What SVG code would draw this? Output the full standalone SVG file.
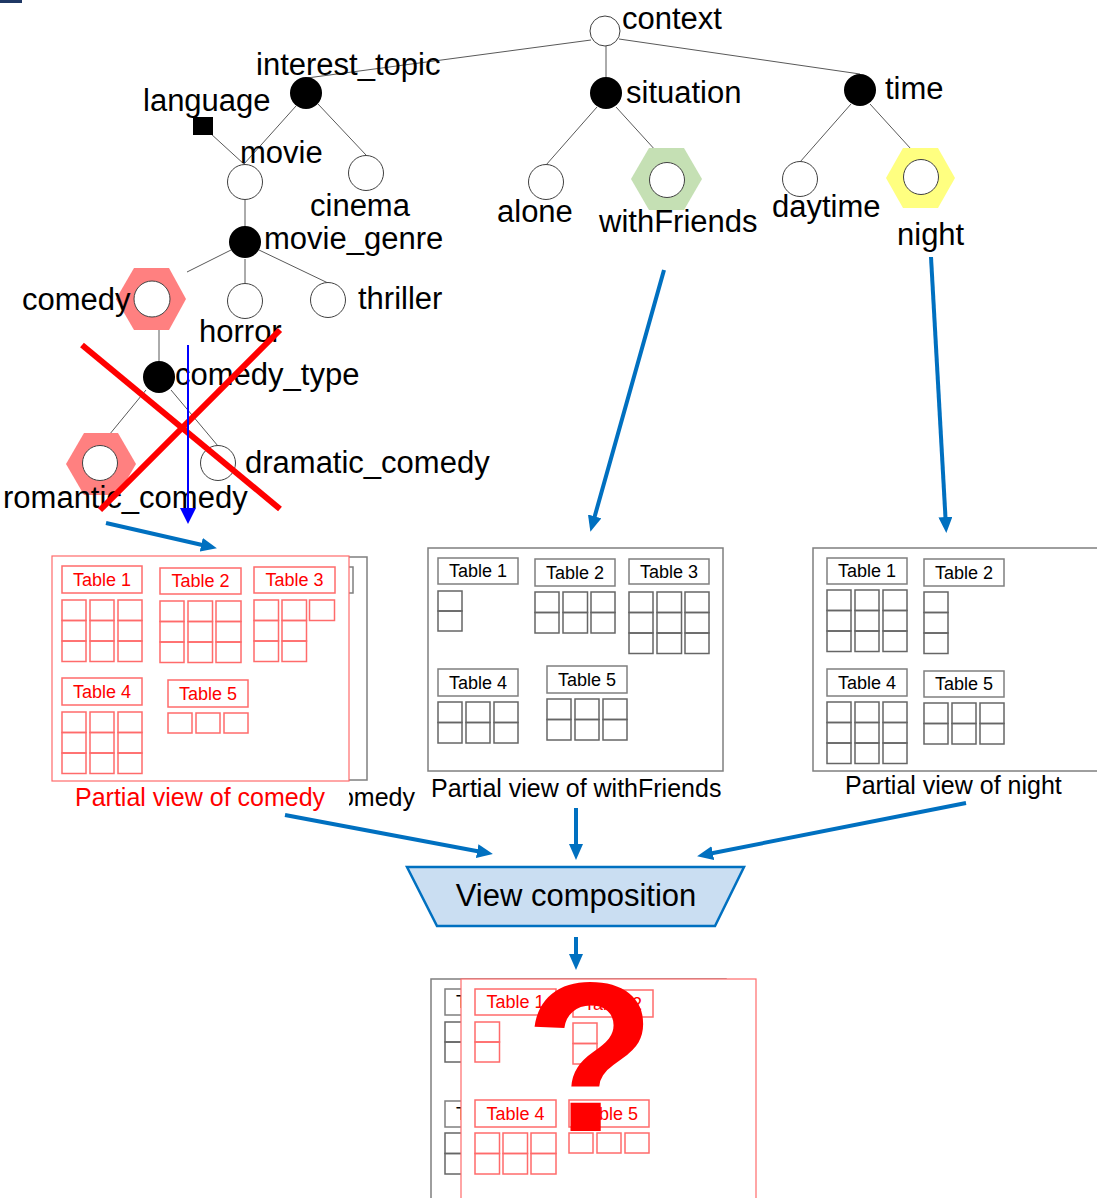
<svg xmlns="http://www.w3.org/2000/svg" width="1097" height="1198" viewBox="0 0 1097 1198">
<style>
text{font-family:"Liberation Sans",Arial,sans-serif;}
.lbl{font-size:31px;fill:#000;}
.tl{font-size:18px;fill:#000;}
.tlr{font-size:18px;fill:#ff0000;}
.cap{font-size:25px;fill:#000;}
.edge{stroke:#595959;stroke-width:1;fill:none;}
.hol{fill:#fff;stroke:#404040;stroke-width:1;}
.blk{fill:#000;}
.pan{fill:#fff;stroke:#7f7f7f;stroke-width:1.5;}
.box{fill:#fff;stroke:#7f7f7f;stroke-width:1.5;}
.cell{fill:none;stroke:#666;stroke-width:1.5;}
.rbox{fill:none;stroke:#ff6b6b;stroke-width:1.5;}
.rpan{fill:none;stroke:#ff6b6b;stroke-width:1.2;}
.arr{stroke:#0070c0;stroke-width:4;fill:none;marker-end:url(#ah);}
</style>
<defs>
<marker id="ah" markerUnits="userSpaceOnUse" markerWidth="16" markerHeight="14" refX="10" refY="7" orient="auto"><path d="M0,0 L16,7 L0,14 z" fill="#0070c0"/></marker>
<marker id="ahb" markerUnits="userSpaceOnUse" markerWidth="16" markerHeight="16" refX="2" refY="8" orient="auto"><path d="M0,0 L16,8 L0,16 z" fill="#0000ff"/></marker>
</defs>
<rect x="0" y="0" width="22" height="3" fill="#1f3864"/>

<g id="tree-edges">
<line class="edge" x1="591" y1="40" x2="307" y2="78"/>
<line class="edge" x1="606" y1="46" x2="606" y2="77"/>
<line class="edge" x1="619" y1="39" x2="860" y2="74"/>
<line class="edge" x1="296" y1="106" x2="244" y2="164"/>
<line class="edge" x1="318" y1="104" x2="366" y2="155"/>
<line class="edge" x1="210" y1="133" x2="245" y2="165"/>
<line class="edge" x1="245" y1="200" x2="245" y2="227"/>
<line class="edge" x1="231" y1="250" x2="187" y2="272"/>
<line class="edge" x1="245" y1="259" x2="245" y2="284"/>
<line class="edge" x1="259" y1="250" x2="328" y2="283"/>
<line class="edge" x1="159" y1="317" x2="159" y2="361"/>
<line class="edge" x1="146" y1="390" x2="100" y2="446"/>
<line class="edge" x1="171" y1="390" x2="218" y2="446"/>
<line class="edge" x1="597" y1="107" x2="546" y2="165"/>
<line class="edge" x1="616" y1="107" x2="667" y2="163"/>
<line class="edge" x1="851" y1="104" x2="800" y2="162"/>
<line class="edge" x1="870" y1="104" x2="921" y2="160"/>
</g>

<g id="context"><circle class="hol" cx="605" cy="31" r="15"/><text class="lbl" x="622" y="29">context</text></g>
<g id="interest_topic"><circle class="blk" cx="306" cy="93" r="16"/><text class="lbl" x="256" y="75">interest_topic</text></g>
<g id="language"><rect class="blk" x="193" y="117" width="20" height="18"/><text class="lbl" x="143" y="111">language</text></g>
<g id="movie"><circle class="hol" cx="245" cy="182" r="17.5"/><text class="lbl" x="240" y="163">movie</text></g>
<g id="cinema"><circle class="hol" cx="366" cy="173" r="17.5"/><text class="lbl" x="310" y="216">cinema</text></g>
<g id="movie_genre"><circle class="blk" cx="245" cy="242" r="16"/><text class="lbl" x="264" y="249">movie_genre</text></g>
<g id="comedy"><polygon points="116,299 134,268 169,268 186,299 169,330 134,330" fill="#ff8080"/><circle class="hol" cx="152" cy="299" r="18"/><text class="lbl" x="22" y="310">comedy</text></g>
<g id="horror"><circle class="hol" cx="245" cy="301" r="17.5"/><text class="lbl" x="199" y="342">horror</text></g>
<g id="thriller"><circle class="hol" cx="328" cy="300" r="17.5"/><text class="lbl" x="358" y="309">thriller</text></g>
<g id="comedy_type"><circle class="blk" cx="159" cy="377" r="16"/><text class="lbl" x="175" y="385">comedy_type</text></g>
<g id="romantic_comedy"><polygon points="66,464 84,433 118,433 136,464 118,495 84,495" fill="#ff8080"/><circle class="hol" cx="100" cy="463" r="17.5"/><text class="lbl" x="3" y="508">romantic_comedy</text></g>
<g id="dramatic_comedy"><circle class="hol" cx="218" cy="463" r="17.5"/><text class="lbl" x="245" y="473">dramatic_comedy</text></g>
<g id="situation"><circle class="blk" cx="606" cy="93" r="16"/><text class="lbl" x="626" y="103">situation</text></g>
<g id="alone"><circle class="hol" cx="546" cy="182" r="17.5"/><text class="lbl" x="497" y="222">alone</text></g>
<g id="withFriends"><polygon points="631,179 649,148 684,148 702,179 684,210 649,210" fill="#c5e0b4"/><circle class="hol" cx="667" cy="180" r="17.5"/><text class="lbl" x="599" y="232">withFriends</text></g>
<g id="time"><circle class="blk" cx="860" cy="90" r="16"/><text class="lbl" x="885" y="99">time</text></g>
<g id="daytime"><circle class="hol" cx="800" cy="179" r="17.5"/><text class="lbl" x="772" y="217">daytime</text></g>
<g id="night"><polygon points="886,178 903,148 938,148 955,178 938,208 903,208" fill="#ffff80"/><circle class="hol" cx="921" cy="177" r="17.5"/><text class="lbl" x="897" y="245">night</text></g>

<g id="cross-out">
<line x1="82" y1="345" x2="280" y2="509" stroke="#ff0000" stroke-width="6"/>
<line x1="280" y1="330" x2="100" y2="510" stroke="#ff0000" stroke-width="6"/>
<line x1="188" y1="345" x2="188" y2="510" stroke="#0000ff" stroke-width="2" marker-end="url(#ahb)"/>
</g>

<g id="pv-comedy-original">
<rect class="pan" x="58" y="557" width="309" height="223"/>
<rect class="box" x="272" y="567" width="81" height="26"/>
<text class="cap" x="415" y="806" text-anchor="end">Partial view of comedy</text>
</g>

<g id="pv-comedy">
<rect x="52" y="556" width="297" height="259" fill="#fff"/>
<rect class="rpan" x="52" y="556" width="297" height="225"/>
<rect class="rbox" x="62" y="566" width="80" height="27"/><text class="tlr" x="102" y="586" text-anchor="middle">Table 1</text>
<rect class="rbox" x="62" y="600" width="24" height="20.5"/><rect class="rbox" x="90" y="600" width="24" height="20.5"/><rect class="rbox" x="118" y="600" width="24" height="20.5"/>
<rect class="rbox" x="62" y="620.5" width="24" height="20.5"/><rect class="rbox" x="90" y="620.5" width="24" height="20.5"/><rect class="rbox" x="118" y="620.5" width="24" height="20.5"/>
<rect class="rbox" x="62" y="641" width="24" height="20.5"/><rect class="rbox" x="90" y="641" width="24" height="20.5"/><rect class="rbox" x="118" y="641" width="24" height="20.5"/>
<rect class="rbox" x="160" y="568" width="81" height="26"/><text class="tlr" x="200.5" y="587" text-anchor="middle">Table 2</text>
<rect class="rbox" x="160" y="601" width="24" height="20.5"/><rect class="rbox" x="188" y="601" width="24.5" height="20.5"/><rect class="rbox" x="216" y="601" width="25" height="20.5"/>
<rect class="rbox" x="160" y="621.5" width="24" height="20.5"/><rect class="rbox" x="188" y="621.5" width="24.5" height="20.5"/><rect class="rbox" x="216" y="621.5" width="25" height="20.5"/>
<rect class="rbox" x="160" y="642" width="24" height="20.5"/><rect class="rbox" x="188" y="642" width="24.5" height="20.5"/><rect class="rbox" x="216" y="642" width="25" height="20.5"/>
<rect class="rbox" x="254" y="567" width="81" height="26"/><text class="tlr" x="294.5" y="586" text-anchor="middle">Table 3</text>
<rect class="rbox" x="254" y="600" width="24.5" height="20.5"/><rect class="rbox" x="282" y="600" width="24.5" height="20.5"/><rect class="rbox" x="309.5" y="600" width="25" height="20.5"/>
<rect class="rbox" x="254" y="620.5" width="24.5" height="20.5"/><rect class="rbox" x="282" y="620.5" width="24.5" height="20.5"/>
<rect class="rbox" x="254" y="641" width="24.5" height="20.5"/><rect class="rbox" x="282" y="641" width="24.5" height="20.5"/>
<rect class="rbox" x="62" y="678" width="80" height="27"/><text class="tlr" x="102" y="698" text-anchor="middle">Table 4</text>
<rect class="rbox" x="62" y="712" width="24" height="20.5"/><rect class="rbox" x="90" y="712" width="24" height="20.5"/><rect class="rbox" x="118" y="712" width="24" height="20.5"/>
<rect class="rbox" x="62" y="732.5" width="24" height="20.5"/><rect class="rbox" x="90" y="732.5" width="24" height="20.5"/><rect class="rbox" x="118" y="732.5" width="24" height="20.5"/>
<rect class="rbox" x="62" y="753" width="24" height="20.5"/><rect class="rbox" x="90" y="753" width="24" height="20.5"/><rect class="rbox" x="118" y="753" width="24" height="20.5"/>
<rect class="rbox" x="168" y="680" width="80" height="27"/><text class="tlr" x="208" y="700" text-anchor="middle">Table 5</text>
<rect class="rbox" x="168" y="713" width="24" height="20"/><rect class="rbox" x="196" y="713" width="24" height="20"/><rect class="rbox" x="224" y="713" width="24" height="20"/>
<text class="cap" x="75" y="806" style="fill:#ff0000">Partial view of comedy</text>
</g>

<g id="pv-withFriends">
<rect class="pan" x="428" y="548" width="295" height="223"/>
<rect class="box" x="438" y="558" width="80" height="26"/><text class="tl" x="478" y="577" text-anchor="middle">Table 1</text>
<rect class="cell" x="438" y="591" width="24" height="20"/><rect class="cell" x="438" y="611" width="24" height="20"/>
<rect class="box" x="535" y="559" width="80" height="27"/><text class="tl" x="575" y="579" text-anchor="middle">Table 2</text>
<rect class="cell" x="535" y="592" width="24" height="20.5"/><rect class="cell" x="563" y="592" width="24.5" height="20.5"/><rect class="cell" x="591" y="592" width="24" height="20.5"/>
<rect class="cell" x="535" y="612.5" width="24" height="20.5"/><rect class="cell" x="563" y="612.5" width="24.5" height="20.5"/><rect class="cell" x="591" y="612.5" width="24" height="20.5"/>
<rect class="box" x="629" y="559" width="80" height="25"/><text class="tl" x="669" y="578" text-anchor="middle">Table 3</text>
<rect class="cell" x="629" y="592" width="24" height="20.5"/><rect class="cell" x="657" y="592" width="24.5" height="20.5"/><rect class="cell" x="685" y="592" width="24" height="20.5"/>
<rect class="cell" x="629" y="612.5" width="24" height="20.5"/><rect class="cell" x="657" y="612.5" width="24.5" height="20.5"/><rect class="cell" x="685" y="612.5" width="24" height="20.5"/>
<rect class="cell" x="629" y="633" width="24" height="20.5"/><rect class="cell" x="657" y="633" width="24.5" height="20.5"/><rect class="cell" x="685" y="633" width="24" height="20.5"/>
<rect class="box" x="438" y="669" width="80" height="27"/><text class="tl" x="478" y="689" text-anchor="middle">Table 4</text>
<rect class="cell" x="438" y="702" width="24" height="20.5"/><rect class="cell" x="466" y="702" width="24" height="20.5"/><rect class="cell" x="494" y="702" width="24" height="20.5"/>
<rect class="cell" x="438" y="722.5" width="24" height="20.5"/><rect class="cell" x="466" y="722.5" width="24" height="20.5"/><rect class="cell" x="494" y="722.5" width="24" height="20.5"/>
<rect class="box" x="547" y="666" width="80" height="27"/><text class="tl" x="587" y="686" text-anchor="middle">Table 5</text>
<rect class="cell" x="547" y="699" width="24" height="20.5"/><rect class="cell" x="575" y="699" width="24" height="20.5"/><rect class="cell" x="603" y="699" width="24" height="20.5"/>
<rect class="cell" x="547" y="719.5" width="24" height="20.5"/><rect class="cell" x="575" y="719.5" width="24" height="20.5"/><rect class="cell" x="603" y="719.5" width="24" height="20.5"/>
<text class="cap" x="431" y="797">Partial view of withFriends</text>
</g>

<g id="pv-night">
<rect class="pan" x="813" y="548" width="300" height="223"/>
<rect class="box" x="827" y="558" width="80" height="26"/><text class="tl" x="867" y="577" text-anchor="middle">Table 1</text>
<rect class="cell" x="827" y="590" width="24" height="20.5"/><rect class="cell" x="855" y="590" width="24" height="20.5"/><rect class="cell" x="883" y="590" width="24" height="20.5"/>
<rect class="cell" x="827" y="610.5" width="24" height="20.5"/><rect class="cell" x="855" y="610.5" width="24" height="20.5"/><rect class="cell" x="883" y="610.5" width="24" height="20.5"/>
<rect class="cell" x="827" y="631" width="24" height="20.5"/><rect class="cell" x="855" y="631" width="24" height="20.5"/><rect class="cell" x="883" y="631" width="24" height="20.5"/>
<rect class="box" x="924" y="559" width="80" height="27"/><text class="tl" x="964" y="579" text-anchor="middle">Table 2</text>
<rect class="cell" x="924" y="592" width="24" height="20.5"/><rect class="cell" x="924" y="612.5" width="24" height="20.5"/><rect class="cell" x="924" y="633" width="24" height="20.5"/>
<rect class="box" x="827" y="669" width="80" height="27"/><text class="tl" x="867" y="689" text-anchor="middle">Table 4</text>
<rect class="cell" x="827" y="702" width="24" height="20.5"/><rect class="cell" x="855" y="702" width="24" height="20.5"/><rect class="cell" x="883" y="702" width="24" height="20.5"/>
<rect class="cell" x="827" y="722.5" width="24" height="20.5"/><rect class="cell" x="855" y="722.5" width="24" height="20.5"/><rect class="cell" x="883" y="722.5" width="24" height="20.5"/>
<rect class="cell" x="827" y="743" width="24" height="20.5"/><rect class="cell" x="855" y="743" width="24" height="20.5"/><rect class="cell" x="883" y="743" width="24" height="20.5"/>
<rect class="box" x="924" y="671" width="80" height="26"/><text class="tl" x="964" y="690" text-anchor="middle">Table 5</text>
<rect class="cell" x="924" y="703" width="24" height="20.5"/><rect class="cell" x="952" y="703" width="24" height="20.5"/><rect class="cell" x="980" y="703" width="24" height="20.5"/>
<rect class="cell" x="924" y="723.5" width="24" height="20.5"/><rect class="cell" x="952" y="723.5" width="24" height="20.5"/><rect class="cell" x="980" y="723.5" width="24" height="20.5"/>
<text class="cap" x="845" y="794">Partial view of night</text>
</g>

<g id="view-composition">
<polygon points="407,867 744,867 715,926 437,926" fill="#cadef2" stroke="#0070c0" stroke-width="2.5"/>
<text x="576" y="906" text-anchor="middle" style="font-size:31px;fill:#000">View composition</text>
</g>

<g id="result">
<rect class="pan" x="431" y="979" width="295" height="240"/>
<rect class="box" x="445" y="989" width="80" height="26"/><text class="tl" x="485" y="1008" text-anchor="middle">Table 1</text>
<rect class="cell" x="445" y="1022" width="24" height="20"/><rect class="cell" x="445" y="1042" width="24" height="20"/>
<rect class="box" x="445" y="1101" width="80" height="26"/><text class="tl" x="485" y="1120" text-anchor="middle">Table 4</text>
<rect class="cell" x="445" y="1133" width="24" height="20.5"/><rect class="cell" x="445" y="1153.5" width="24" height="20.5"/>
<rect x="461" y="979" width="295" height="240" fill="#fff"/>
<rect class="rpan" x="461" y="979" width="295" height="240"/>
<rect class="rbox" x="475" y="989" width="81" height="26"/><text class="tlr" x="515.5" y="1008" text-anchor="middle">Table 1</text>
<rect class="rbox" x="475" y="1022" width="24.5" height="20"/><rect class="rbox" x="475" y="1042" width="24.5" height="20"/>
<rect class="rbox" x="573" y="990" width="80" height="27"/><text class="tlr" x="613" y="1010" text-anchor="middle">Table 2</text>
<rect class="rbox" x="573" y="1023" width="24" height="20.5"/><rect class="rbox" x="573" y="1043.5" width="24" height="20.5"/>
<rect class="rbox" x="475" y="1100" width="81" height="27"/><text class="tlr" x="515.5" y="1120" text-anchor="middle">Table 4</text>
<rect class="rbox" x="475" y="1133" width="24.5" height="20.5"/><rect class="rbox" x="503" y="1133" width="24.5" height="20.5"/><rect class="rbox" x="531" y="1133" width="25" height="20.5"/>
<rect class="rbox" x="475" y="1153.5" width="24.5" height="20.5"/><rect class="rbox" x="503" y="1153.5" width="24.5" height="20.5"/><rect class="rbox" x="531" y="1153.5" width="25" height="20.5"/>
<rect class="rbox" x="569" y="1100" width="80" height="27"/><text class="tlr" x="609" y="1120" text-anchor="middle">Table 5</text>
<rect class="rbox" x="569" y="1133" width="24" height="20"/><rect class="rbox" x="597" y="1133" width="24" height="20"/><rect class="rbox" x="625" y="1133" width="24" height="20"/>
<text x="590" y="1131" text-anchor="middle" style="font-size:214px;font-weight:bold;fill:#ff0000">?</text>
</g>

<g id="connectors">
<line class="arr" x1="664" y1="270" x2="592" y2="526"/>
<line class="arr" x1="931" y1="257" x2="946" y2="527"/>
<line class="arr" x1="106" y1="523" x2="211" y2="547"/>
<line class="arr" x1="285" y1="815" x2="487" y2="853"/>
<line class="arr" x1="576" y1="808" x2="576" y2="854"/>
<line class="arr" x1="966" y1="803" x2="703" y2="855"/>
<line class="arr" x1="576" y1="937" x2="576" y2="964"/>
</g>
</svg>
